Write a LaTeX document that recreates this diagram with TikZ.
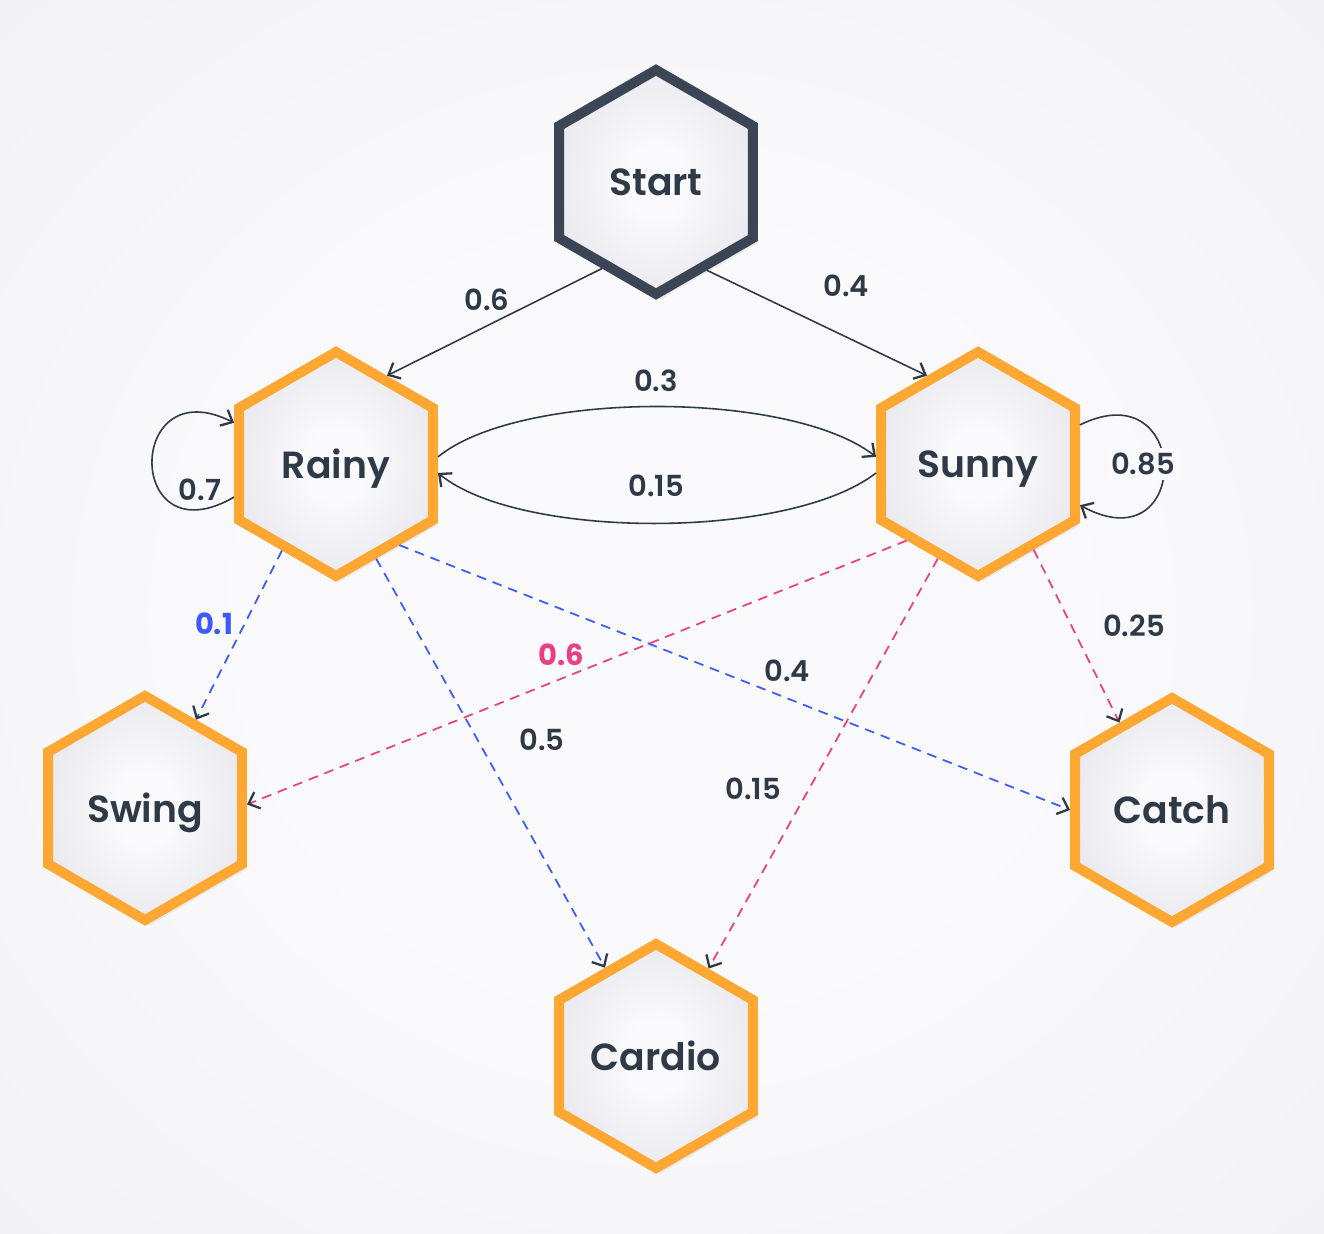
\documentclass[tikz,border=0pt]{standalone}
\usepackage{fontspec}
\setmainfont{Poppins}[UprightFont=* Medium, BoldFont=* SemiBold]
\newfontfamily\heavyfont{Poppins}[UprightFont=* Bold]
\usetikzlibrary{shapes.geometric,arrows.meta,shadows}
\definecolor{ink}{HTML}{2E3A48}
\definecolor{hexorange}{HTML}{FFA733}
\definecolor{startedge}{HTML}{3A4556}
\definecolor{bluedash}{HTML}{3D5AFE}
\definecolor{pinkdash}{HTML}{EC3E84}
\definecolor{bgin}{HTML}{FAFAFC}
\definecolor{bgmid}{HTML}{EEEEF3}
\definecolor{bgout}{HTML}{E2E2E9}
\definecolor{hexin}{HTML}{FAFAFC}
\definecolor{hexout}{HTML}{DCDCE3}
\pgfdeclareradialshading{bgshade}{\pgfpoint{0bp}{0bp}}{color(0bp)=(bgin); color(15bp)=(bgin); color(50bp)=(bgmid); color(72bp)=(bgout)}
\pgfdeclareradialshading{hexshade}{\pgfpoint{0bp}{0bp}}{color(0bp)=(hexin); color(8bp)=(hexin); color(42bp)=(hexout); color(50bp)=(hexout)}
\begin{document}
\begin{tikzpicture}[x=0.02cm,y=-0.02cm,
  hexnode/.style={regular polygon, regular polygon sides=6, shape border rotate=30,
    minimum size=4.48cm, inner sep=0pt, line width=5.7pt, draw=hexorange,
    shading=hexshade,
    drop shadow={opacity=0.13, shadow xshift=2.5pt, shadow yshift=-3pt},
    font=\fontsize{21.5}{24}\selectfont\bfseries, text=ink, text depth=0pt},
  startnode/.style={hexnode, draw=startedge},
  tipped/.style={-{Straight Barb[length=5.5pt,width=10pt,line width=1.3pt,color=ink]}},
  solidedge/.style={tipped, draw=ink, line width=0.9pt},
  blueedge/.style={tipped, draw=bluedash, line width=1pt, dash pattern=on 5.5pt off 4pt},
  pinkedge/.style={tipped, draw=pinkdash, line width=1pt, dash pattern=on 5.5pt off 4pt},
  lbl/.style={font=\fontsize{16.5}{18}\selectfont\bfseries, text=ink, inner sep=1pt},
  bluelbl/.style={lbl, font=\fontsize{16.5}{18}\selectfont\heavyfont, text=bluedash},
  pinklbl/.style={lbl, font=\fontsize{16.5}{18}\selectfont\heavyfont, text=pinkdash}
]
\useasboundingbox (0,0) rectangle (1324,1233);
\shade[shading=bgshade] (0,0) rectangle (1324,1233);

% nodes
\node[startnode] (Start) at (656,182) {Start};
\node[hexnode] (Rainy) at (336,464) {Rainy};
\node[hexnode] (Sunny) at (978,464) {Sunny};
\node[hexnode] (Swing) at (145,808) {Swing};
\node[hexnode] (Catch) at (1172,810) {Catch};
\node[hexnode] (Cardio) at (656,1056) {Cardio};

% solid transitions
\draw[solidedge] (Start.-122) -- (Rainy.60);
\draw[solidedge] (Start.-60) -- (Sunny.120);
\draw[solidedge] (Rainy.4) .. controls (520,390) and (790,390) .. (Sunny.176);
\draw[solidedge] (Sunny.185) .. controls (790,540) and (520,540) .. (Rainy.-5);
\draw[solidedge] (Rainy.198) .. controls (125,560) and (125,368) .. (Rainy.158);
\draw[solidedge] (Sunny.21) .. controls (1192,370) and (1192,566) .. (Sunny.-22);

% emissions
\draw[blueedge] (Rainy.-122) -- (Swing.60);
\draw[blueedge] (Rainy.-67) -- (Cardio.120);
\draw[blueedge] (Rainy.-52) -- (Catch.180);
\draw[pinkedge] (Sunny.-133) -- (Swing.2);
\draw[pinkedge] (Sunny.-113) -- (Cardio.59);
\draw[pinkedge] (Sunny.-57) -- (Catch.121);

% labels
\node[lbl] (l1) at (487,300) {0.6};
\node[lbl] (l2) at (846,286) {0.4};
\node[lbl] (l3) at (656,381) {0.3};
\node[lbl] (l4) at (656,486) {0.15};
\node[lbl] (l5) at (200,490) {0.7};
\node[lbl, fill=bgin, inner sep=3pt] (l6) at (1143,464) {0.85};
\node[bluelbl] (l7) at (214,624) {0.1};
\node[pinklbl] (l8) at (561,655) {0.6};
\node[lbl] (l9) at (787,671) {0.4};
\node[lbl] (l10) at (542,740) {0.5};
\node[lbl] (l11) at (753,789) {0.15};
\node[lbl] (l12) at (1134,626) {0.25};
\end{tikzpicture}
\end{document}
